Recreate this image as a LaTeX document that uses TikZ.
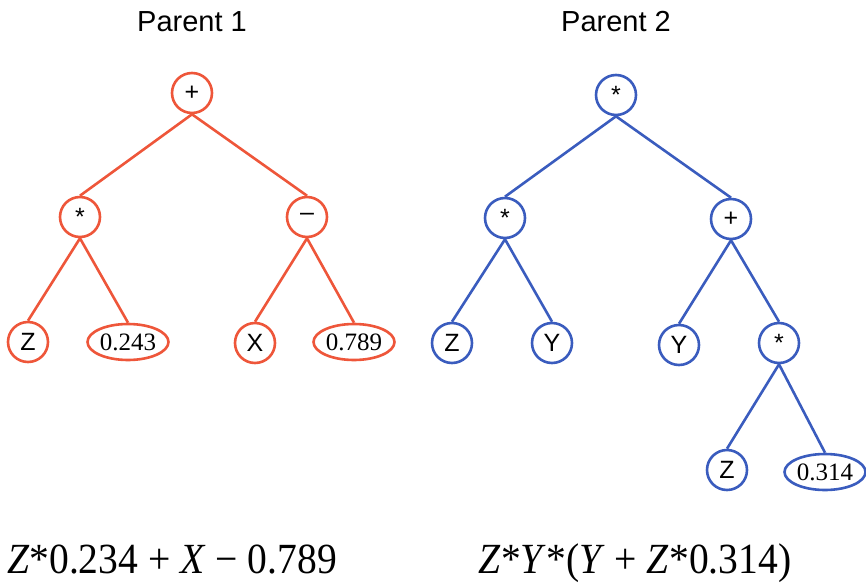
\documentclass[tikz,border=0pt]{standalone}
\usepackage{fontspec}
\setmainfont{Liberation Serif}
\setsansfont{Liberation Sans}
\newfontfamily\exprfont[FakeStretch=0.92]{Liberation Serif}
\usetikzlibrary{shapes.geometric}
\definecolor{treeone}{RGB}{238,86,58}
\definecolor{treetwo}{RGB}{58,92,190}

\tikzset{
  gpnode/.style={circle, draw=#1, line width=2.6pt, fill=white, minimum size=40pt,
    inner sep=0pt, font=\sffamily\fontsize{25}{25}\selectfont},
  gpconst/.style={ellipse, draw=#1, line width=2.6pt, fill=white, minimum width=81pt,
    minimum height=36pt, inner sep=0pt, font=\fontsize{25}{25}\selectfont},
  gpedge/.style={draw=#1, line width=2.6pt},
  treetitle/.style={font=\sffamily\fontsize{29}{29}\selectfont},
  formula/.style={anchor=base, inner sep=0pt, font=\exprfont\fontsize{43}{43}\selectfont}
}

\begin{document}
\begin{tikzpicture}[x=1pt, y=-1pt]
    \useasboundingbox (0,0) rectangle (866,583);

    % Parent 1
    \node[treetitle] (title1) at (192,22) {Parent 1};
    \node[gpnode=treeone] (a0) at (192,93) {+};
    \node[gpnode=treeone] (a1) at (80,217) {*};
    \node[gpnode=treeone] (a2) at (307,217) {--};
    \node[gpnode=treeone] (a3) at (28,342) {Z};
    \node[gpconst=treeone] (a4) at (128,342) {0.243};
    \node[gpnode=treeone] (a5) at (255,343) {X};
    \node[gpconst=treeone] (a6) at (354,342) {0.789};

    \draw[gpedge=treeone] (a0.south) -- (a1.north);
    \draw[gpedge=treeone] (a0.south) -- (a2.north);
    \draw[gpedge=treeone] (a1.south) -- (a3.north);
    \draw[gpedge=treeone] (a1.south) -- (a4.north);
    \draw[gpedge=treeone] (a2.south) -- (a5.north);
    \draw[gpedge=treeone] (a2.south) -- (a6.north);

    % Parent 2
    \node[treetitle] (title2) at (616,22) {Parent 2};
    \node[gpnode=treetwo] (b0) at (616,95) {*};
    \node[gpnode=treetwo] (b1) at (505,218) {*};
    \node[gpnode=treetwo] (b2) at (731,219) {+};
    \node[gpnode=treetwo] (b3) at (452,343) {Z};
    \node[gpnode=treetwo] (b4) at (552,343) {Y};
    \node[gpnode=treetwo] (b5) at (679,345) {Y};
    \node[gpnode=treetwo] (b6) at (779,343) {*};
    \node[gpnode=treetwo] (b7) at (727,470) {Z};
    \node[gpconst=treetwo] (b8) at (825,472) {0.314};

    \draw[gpedge=treetwo] (b0.south) -- (b1.north);
    \draw[gpedge=treetwo] (b0.south) -- (b2.north);
    \draw[gpedge=treetwo] (b1.south) -- (b3.north);
    \draw[gpedge=treetwo] (b1.south) -- (b4.north);
    \draw[gpedge=treetwo] (b2.south) -- (b5.north);
    \draw[gpedge=treetwo] (b2.south) -- (b6.north);
    \draw[gpedge=treetwo] (b6.south) -- (b7.north);
    \draw[gpedge=treetwo] (b6.south) -- (b8.north);

    % Expressions below the trees
    \node[formula] (expr1) at (172,573) {\textit{Z}*0.234 + \textit{X} − 0.789};
    \node[formula] (expr2) at (635,573) {\textit{Z}*\textit{Y}*(\textit{Y} + \textit{Z}*0.314)};

\end{tikzpicture}
\end{document}
